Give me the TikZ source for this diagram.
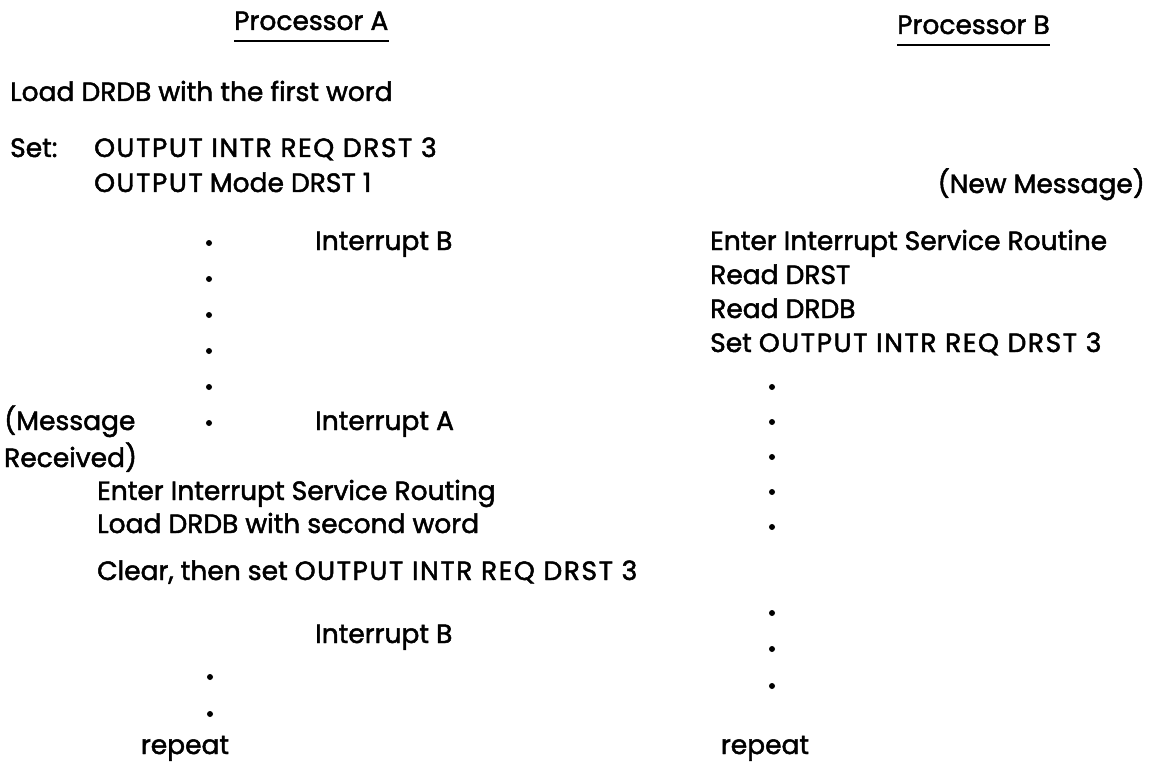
\documentclass[tikz,border=0pt]{standalone}
\usepackage{fontspec}
\setmainfont{Poppins}[RawFeature={embolden=1.8}]
\newcommand{\capsw}[1]{{\addfontfeature{LetterSpace=6}#1}}
\begin{document}
\begin{tikzpicture}[x=1pt,y=-1pt,
  txt/.style={anchor=base west,inner sep=0pt,font=\fontsize{26.5}{32}\selectfont},
  uline/.style={line width=2.6pt}]
\useasboundingbox (0,0) rectangle (1156,762);

% headings
\node[txt] (procA) at (234,30) {Processor A};
\node[txt] (procB) at (897,34) {Processor B};
\draw[uline] ([yshift=-11pt]procA.base west) -- ([yshift=-11pt]procA.base east);
\draw[uline] ([yshift=-11pt]procB.base west) -- ([yshift=-11pt]procB.base east);

% Processor A
\node[txt] (loadA) at (10,101) {Load DRDB with the first word};
\node[txt] (setA) at (10,157) {Set:};
\node[txt] (reqA) at (94,157) {\capsw{OUTPUT INTR REQ DRST 3}};
\node[txt] (modeA) at (94,192) {\capsw{OUTPUT} Mode DRST 1};
\node[txt] (intB) at (315,250) {Interrupt B};
\node[txt] (msgA) at (4,430) {(Message};
\node[txt] (intA) at (315,430) {Interrupt A};
\node[txt] (rcvA) at (4,467) {Received)};
\node[txt] (isrA) at (97,500) {Enter Interrupt Service Routing};
\node[txt] (loadB) at (97,533) {Load DRDB with second word};
\node[txt] (clrA) at (97,580) {Clear, then set \capsw{OUTPUT INTR REQ DRST 3}};
\node[txt] (intB2) at (315,643) {Interrupt B};
\node[txt,anchor=base] (repA) at (185,754) {repeat};
\foreach \y in {243,279,315,351,387,423}
  \fill (209,\y) circle (3);
\foreach \y in {677,714}
  \fill (210,\y) circle (3);

% Processor B
\node[txt,anchor=base east] (newB) at (1145,193) {(New Message)};
\node[txt] (isrB) at (710,250) {Enter Interrupt Service Routine};
\node[txt] (rdstB) at (710,284) {Read DRST};
\node[txt] (rdrdbB) at (710,318) {Read DRDB};
\node[txt] (reqB) at (710,352) {Set \capsw{OUTPUT INTR REQ DRST 3}};
\node[txt,anchor=base] (repB) at (765,754) {repeat};
\foreach \y in {387,422,457,492,527,613,649,686}
  \fill (772,\y) circle (3);

\end{tikzpicture}
\end{document}
